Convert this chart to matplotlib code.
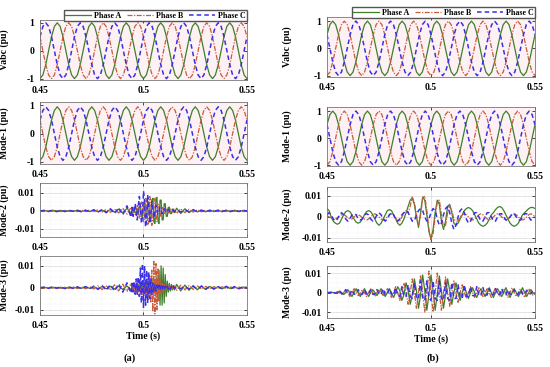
import numpy as np
import matplotlib
matplotlib.use("Agg")
import matplotlib.pyplot as plt
from matplotlib.ticker import MultipleLocator

# ---------------- data ----------------
# Vabc / Mode-1 panels: samples every 1/720 s between 0.45 and 0.55 s
t_sine = np.linspace(0.45, 0.55, 73)

vabc_a_A = [-1, -0.87, -0.5, 0, 0.5, 0.87, 1, 0.87, 0.5, 0, -0.5, -0.87,
            -1, -0.87, -0.5, 0, 0.5, 0.87, 1, 0.87, 0.5, 0, -0.5, -0.87,
            -1, -0.87, -0.5, 0, 0.5, 0.87, 1, 0.87, 0.5, 0, -0.5, -0.87,
            -1, -0.87, -0.5, 0, 0.5, 0.87, 1, 0.87, 0.5, 0, -0.5, -0.87,
            -1, -0.87, -0.5, 0, 0.5, 0.87, 1, 0.87, 0.5, 0, -0.5, -0.87,
            -1, -0.87, -0.5, 0, 0.5, 0.87, 1, 0.87, 0.5, 0, -0.5, -0.87, -1]
vabc_a_B = [0.5, 0, -0.5, -0.87, -1, -0.87, -0.5, 0, 0.5, 0.87, 1, 0.87,
            0.5, 0, -0.5, -0.87, -1, -0.87, -0.5, 0, 0.5, 0.87, 1, 0.87,
            0.5, 0, -0.5, -0.87, -1, -0.87, -0.5, 0, 0.5, 0.87, 1, 0.87,
            0.5, 0, -0.5, -0.87, -1, -0.87, -0.5, 0, 0.5, 0.87, 1, 0.87,
            0.5, 0, -0.5, -0.87, -1, -0.87, -0.5, 0, 0.5, 0.87, 1, 0.87,
            0.5, 0, -0.5, -0.87, -1, -0.87, -0.5, 0, 0.5, 0.87, 1, 0.87, 0.5]
vabc_a_C = [0.5, 0.87, 1, 0.87, 0.5, 0, -0.5, -0.87, -1, -0.87, -0.5, 0,
            0.5, 0.87, 1, 0.87, 0.5, 0, -0.5, -0.87, -1, -0.87, -0.5, 0,
            0.5, 0.87, 1, 0.87, 0.5, 0, -0.5, -0.87, -1, -0.87, -0.5, 0,
            0.5, 0.87, 1, 0.87, 0.5, 0, -0.5, -0.87, -1, -0.87, -0.5, 0,
            0.5, 0.87, 1, 0.87, 0.5, 0, -0.5, -0.87, -1, -0.87, -0.5, 0,
            0.5, 0.87, 1, 0.87, 0.5, 0, -0.5, -0.87, -1, -0.87, -0.5, 0, 0.5]

mode1_a_A = [-0.95, -0.82, -0.48, 0, 0.48, 0.82, 0.95, 0.82, 0.48, 0, -0.48, -0.82,
             -0.95, -0.82, -0.48, 0, 0.48, 0.82, 0.95, 0.82, 0.48, 0, -0.48, -0.82,
             -0.95, -0.82, -0.48, 0, 0.48, 0.82, 0.95, 0.82, 0.48, 0, -0.48, -0.82,
             -0.95, -0.82, -0.48, 0, 0.48, 0.82, 0.95, 0.82, 0.48, 0, -0.48, -0.82,
             -0.95, -0.82, -0.48, 0, 0.48, 0.82, 0.95, 0.82, 0.48, 0, -0.48, -0.82,
             -0.95, -0.82, -0.48, 0, 0.48, 0.82, 0.95, 0.82, 0.48, 0, -0.48, -0.82, -0.95]
mode1_a_B = [0.48, 0, -0.48, -0.82, -0.95, -0.82, -0.48, 0, 0.48, 0.82, 0.95, 0.82,
             0.48, 0, -0.48, -0.82, -0.95, -0.82, -0.48, 0, 0.48, 0.82, 0.95, 0.82,
             0.48, 0, -0.48, -0.82, -0.95, -0.82, -0.48, 0, 0.48, 0.82, 0.95, 0.82,
             0.48, 0, -0.48, -0.82, -0.95, -0.82, -0.48, 0, 0.48, 0.82, 0.95, 0.82,
             0.48, 0, -0.48, -0.82, -0.95, -0.82, -0.48, 0, 0.48, 0.82, 0.95, 0.82,
             0.48, 0, -0.48, -0.82, -0.95, -0.82, -0.48, 0, 0.48, 0.82, 0.95, 0.82, 0.48]
mode1_a_C = [0.48, 0.82, 0.95, 0.82, 0.48, 0, -0.48, -0.82, -0.95, -0.82, -0.48, 0,
             0.48, 0.82, 0.95, 0.82, 0.48, 0, -0.48, -0.82, -0.95, -0.82, -0.48, 0,
             0.48, 0.82, 0.95, 0.82, 0.48, 0, -0.48, -0.82, -0.95, -0.82, -0.48, 0,
             0.48, 0.82, 0.95, 0.82, 0.48, 0, -0.48, -0.82, -0.95, -0.82, -0.48, 0,
             0.48, 0.82, 0.95, 0.82, 0.48, 0, -0.48, -0.82, -0.95, -0.82, -0.48, 0,
             0.48, 0.82, 0.95, 0.82, 0.48, 0, -0.48, -0.82, -0.95, -0.82, -0.48, 0, 0.48]

vabc_b_A = [0.5, 0.87, 1, 0.87, 0.5, 0, -0.5, -0.87, -1, -0.87, -0.5, 0,
            0.5, 0.87, 1, 0.87, 0.5, 0, -0.5, -0.87, -1, -0.87, -0.5, 0,
            0.5, 0.87, 1, 0.87, 0.5, 0, -0.5, -0.87, -1, -0.87, -0.5, 0,
            0.5, 0.87, 1, 0.87, 0.5, 0, -0.5, -0.87, -1, -0.87, -0.5, 0,
            0.5, 0.87, 1, 0.87, 0.5, 0, -0.5, -0.87, -1, -0.87, -0.5, 0,
            0.5, 0.87, 1, 0.87, 0.5, 0, -0.5, -0.87, -1, -0.87, -0.5, 0, 0.5]
vabc_b_B = [-1, -0.87, -0.5, 0, 0.5, 0.87, 1, 0.87, 0.5, 0, -0.5, -0.87,
            -1, -0.87, -0.5, 0, 0.5, 0.87, 1, 0.87, 0.5, 0, -0.5, -0.87,
            -1, -0.87, -0.5, 0, 0.5, 0.87, 1, 0.87, 0.5, 0, -0.5, -0.87,
            -1, -0.87, -0.5, 0, 0.5, 0.87, 1, 0.87, 0.5, 0, -0.5, -0.87,
            -1, -0.87, -0.5, 0, 0.5, 0.87, 1, 0.87, 0.5, 0, -0.5, -0.87,
            -1, -0.87, -0.5, 0, 0.5, 0.87, 1, 0.87, 0.5, 0, -0.5, -0.87, -1]
vabc_b_C = [0.5, 0, -0.5, -0.87, -1, -0.87, -0.5, 0, 0.5, 0.87, 1, 0.87,
            0.5, 0, -0.5, -0.87, -1, -0.87, -0.5, 0, 0.5, 0.87, 1, 0.87,
            0.5, 0, -0.5, -0.87, -1, -0.87, -0.5, 0, 0.5, 0.87, 1, 0.87,
            0.5, 0, -0.5, -0.87, -1, -0.87, -0.5, 0, 0.5, 0.87, 1, 0.87,
            0.5, 0, -0.5, -0.87, -1, -0.87, -0.5, 0, 0.5, 0.87, 1, 0.87,
            0.5, 0, -0.5, -0.87, -1, -0.87, -0.5, 0, 0.5, 0.87, 1, 0.87, 0.5]

mode1_b_A = vabc_b_A
mode1_b_B = vabc_b_B
mode1_b_C = vabc_b_C

# Mode-2 / Mode-3 (a): coarse, dense around the fault, coarse again
t_burst_a = np.concatenate([np.linspace(0.45, 0.494, 23),
                            np.linspace(0.4945, 0.515, 42),
                            np.linspace(0.516, 0.55, 18)])

mode2_a_A = [0, 0.0003, -0.0003, 0.0004, -0.0002, 0.0003, -0.0004, 0.0002, -0.0003, 0.0004,
             -0.0003, 0.0003, -0.0004, 0.0005, -0.0005, 0.0004, -0.0006, 0.0008, -0.0007, 0.001,
             -0.0012, 0.0015, -0.0015,
             0.001, -0.001, -0.001, 0.0015, 0.0015, -0.002, -0.002, 0.002, 0.003, -0.003,
             -0.003, 0.003, 0.004, -0.004, -0.004, 0.005, 0.005, -0.005, -0.006, 0.006,
             0.007, -0.006, -0.007, 0.007, 0.0075, -0.006, -0.007, 0.006, 0.006, -0.005,
             -0.005, 0.004, 0.004, -0.003, -0.003, 0.002, 0.002, -0.0015, -0.0015, 0.001,
             0.001, -0.001,
             0.0015, -0.0015, 0.0012, -0.001, 0.0008, -0.0006, 0.0005, -0.0005, 0.0004, -0.0004,
             0.0003, -0.0004, 0.0004, -0.0003, 0.0004, -0.0004, 0.0003, 0]
mode2_a_B = [0, -0.0003, 0.0004, -0.0002, 0.0003, -0.0004, 0.0003, -0.0003, 0.0002, -0.0004,
             0.0004, -0.0003, 0.0005, -0.0004, 0.0006, -0.0006, 0.0008, -0.0008, 0.001, -0.0012,
             0.0015, -0.0018, 0.002,
             -0.002, 0.001, 0.002, -0.002, -0.002, 0.003, 0.002, -0.004, -0.003, 0.005,
             0.004, -0.006, -0.005, 0.007, 0.006, -0.008, -0.006, 0.008, 0.006, -0.008,
             -0.005, 0.007, 0.004, -0.006, -0.003, 0.004, 0.002, -0.003, -0.001, 0.002,
             0.001, -0.002, -0.001, 0.0015, 0.001, -0.0012, -0.0008, 0.001, 0.0006, -0.0008,
             -0.0005, 0.0005,
             -0.0015, 0.0012, -0.001, 0.0009, -0.0007, 0.0006, -0.0005, 0.0004, -0.0004, 0.0003,
             -0.0004, 0.0003, -0.0003, 0.0004, -0.0003, 0.0003, -0.0004, 0]
mode2_a_C = [0, 0.0002, -0.0003, 0.0003, -0.0004, 0.0002, -0.0003, 0.0004, -0.0002, 0.0003,
             -0.0005, 0.0004, -0.0005, 0.0006, -0.0007, 0.0008, -0.001, 0.0012, -0.0015, 0.0018,
             -0.0022, 0.0028, -0.0035,
             0.002, -0.003, 0.001, 0.004, -0.002, -0.005, 0.003, 0.008, 0.002, -0.007,
             -0.003, 0.011, 0.006, -0.009, -0.004, 0.009, 0.003, -0.007, -0.002, 0.005,
             0.001, -0.004, 0, 0.003, 0, -0.002, 0, 0.002, 0, -0.0015,
             0, 0.0012, 0, -0.001, 0, 0.0008, 0, -0.0006, 0, 0.0005,
             0, -0.0004,
             0.0005, -0.0006, 0.0005, -0.0004, 0.0004, -0.0003, 0.0003, -0.0004, 0.0003, -0.0003,
             0.0004, -0.0003, 0.0003, -0.0004, 0.0003, -0.0003, 0.0003, 0]

mode3_a_A = [0, 0.0002, -0.0002, 0.0003, -0.0003, 0.0002, -0.0003, 0.0003, -0.0002, 0.0003,
             -0.0003, 0.0004, -0.0003, 0.0004, -0.0004, 0.0005, -0.0005, 0.0006, -0.0006, 0.0007,
             -0.0008, 0.0008, -0.001,
             0.001, -0.001, 0.001, -0.001, 0.0015, -0.0015, 0.0015, -0.0015, 0.002, -0.002,
             0.002, -0.002, 0.002, -0.002, 0.0025, -0.0025, 0.0025, -0.0025, 0.003, -0.003,
             0.003, -0.003, 0.004, -0.004, 0.005, -0.006, 0.008, -0.008, 0.010, -0.008,
             0.009, -0.007, 0.006, -0.004, 0.003, -0.002, 0.002, -0.0015, 0.0015, -0.001,
             0.001, -0.001,
             0.0015, -0.0015, 0.0012, -0.0012, 0.001, -0.001, 0.0008, -0.0008, 0.0006, -0.0006,
             0.0005, -0.0005, 0.0005, -0.0004, 0.0004, -0.0004, 0.0003, 0]
mode3_a_B = [0, -0.0003, 0.0003, -0.0002, 0.0003, -0.0003, 0.0002, -0.0003, 0.0004, -0.0004,
             0.0003, -0.0005, 0.0005, -0.0006, 0.0008, -0.0009, 0.001, -0.0012, 0.0013, -0.0015,
             0.0016, -0.0018, 0.002,
             -0.001, 0.001, -0.0015, 0.0015, -0.002, 0.002, -0.002, 0.002, -0.0025, 0.0025,
             -0.003, 0.003, -0.003, 0.0035, -0.004, 0.004, -0.005, 0.006, -0.007, 0.008,
             -0.011, 0.012, -0.012, 0.011, -0.010, 0.009, -0.006, 0.004, -0.003, 0.002,
             -0.002, 0.0015, -0.0015, 0.0012, -0.0012, 0.001, -0.001, 0.001, -0.0008, 0.0008,
             -0.0008, 0.0008,
             -0.0012, 0.0012, -0.001, 0.001, -0.0008, 0.0008, -0.0006, 0.0006, -0.0005, 0.0005,
             -0.0004, 0.0004, -0.0004, 0.0003, -0.0003, 0.0003, -0.0003, 0]
mode3_a_C = [0, 0.0002, -0.0003, 0.0003, -0.0002, 0.0003, -0.0004, 0.0003, -0.0003, 0.0004,
             -0.0004, 0.0005, -0.0006, 0.0007, -0.0008, 0.001, -0.0012, 0.0014, -0.0016, 0.0018,
             -0.002, 0.0022, -0.0025,
             0.002, -0.002, 0.003, -0.003, 0.004, -0.003, 0.005, -0.004, 0.009, -0.007,
             0.011, -0.009, 0.010, -0.008, 0.008, -0.007, 0.007, -0.005, 0.004, -0.003,
             0.002, -0.002, 0.0015, -0.0015, 0.001, -0.001, 0.001, -0.001, 0.0008, -0.0008,
             0.0008, -0.0008, 0.0006, -0.0006, 0.0006, -0.0006, 0.0005, -0.0005, 0.0005, -0.0005,
             0.0004, -0.0004,
             0.0004, -0.0004, 0.0005, -0.0005, 0.0006, -0.0006, 0.0007, -0.0007, 0.0006, -0.0006,
             0.0005, -0.0005, 0.0006, -0.0006, 0.0005, -0.0005, 0.0004, 0]

# Mode-2 / Mode-3 (b): one sample per ms
t_burst_b = np.linspace(0.45, 0.55, 101)

mode2_b_A = [0.004, 0.003, 0.0, -0.002, -0.003, -0.0035, -0.003, -0.001, 0.001, 0.0025,
             0.003, 0.0025, 0.001, -0.001, -0.0025, -0.003, -0.0025, -0.001, 0.001, 0.0025,
             0.003, 0.0025, 0.001, -0.001, -0.003, -0.004, -0.003, -0.001, 0.001, 0.003,
             0.0035, 0.003, 0.001, -0.001, -0.003, -0.004, -0.003, -0.001, 0.002, 0.005,
             0.008, 0.009, 0.006, 0.0, -0.005, 0.002, 0.0095, 0.008, 0.001, -0.007,
             -0.0105, -0.006, 0.002, 0.008, 0.006, -0.002, -0.006, -0.002, 0.005, 0.006,
             0.002, -0.003, -0.004, -0.003, -0.001, 0.001, 0.003, 0.004, 0.0045, 0.004,
             0.003, 0.001, -0.001, -0.003, -0.004, -0.0045, -0.004, -0.003, -0.001, 0.001,
             0.002, 0.0035, 0.0045, 0.005, 0.0045, 0.003, 0.001, -0.001, -0.003, -0.004,
             -0.0045, -0.004, -0.003, -0.001, 0.001, 0.002, 0.003, 0.004, 0.0045, 0.0045,
             0.004]
mode2_b_B = [0.0005, 0.0, -0.0005, -0.001, -0.001, -0.0005, 0.0005, 0.001, 0.001, 0.0005,
             -0.0005, -0.001, -0.001, 0.0, 0.001, 0.001, 0.0005, -0.0005, -0.001, -0.0015,
             -0.001, 0.0, 0.001, 0.0015, 0.001, 0.0, -0.001, -0.0015, -0.001, 0.0,
             0.001, 0.0015, 0.001, -0.0005, -0.002, -0.002, 0.0, 0.002, 0.003, 0.002,
             0.005, 0.0095, 0.007, 0.001, -0.004, 0.001, 0.009, 0.010, 0.003, -0.006,
             -0.011, -0.008, 0.0, 0.007, 0.008, 0.001, -0.005, -0.004, 0.002, 0.005,
             0.003, -0.001, -0.002, -0.002, 0.0, 0.001, 0.0015, 0.001, 0.0, -0.001,
             -0.0015, -0.001, 0.0, 0.001, 0.0015, 0.001, 0.0, -0.001, -0.0015, -0.001,
             0.0, 0.001, 0.0015, 0.001, 0.0, -0.001, -0.0015, -0.001, 0.0, 0.001,
             0.0015, 0.001, 0.0, -0.001, -0.0015, -0.001, 0.0, 0.001, 0.0015, 0.001,
             0.0]
mode2_b_C = [0.001, 0.002, 0.001, -0.001, -0.002, -0.001, 0.001, 0.002, 0.001, -0.001,
             -0.002, -0.001, 0.001, 0.0015, 0.001, -0.001, -0.0015, -0.001, 0.001, 0.0015,
             0.001, -0.001, -0.002, -0.001, 0.001, 0.002, 0.001, -0.001, -0.002, -0.001,
             0.001, 0.002, 0.001, -0.001, -0.002, -0.001, 0.001, 0.002, 0.003, 0.002,
             0.0, -0.002, -0.002, 0.001, 0.003, 0.004, 0.003, 0.0, -0.002, -0.001,
             0.002, 0.004, 0.003, -0.001, -0.004, -0.003, 0.001, 0.004, 0.005, 0.002,
             -0.003, -0.006, -0.004, 0.0, 0.003, 0.004, 0.002, -0.001, -0.003, -0.002,
             0.0, 0.002, 0.002, 0.0, -0.002, -0.002, 0.0, 0.002, 0.002, 0.0,
             -0.002, -0.002, 0.0, 0.0015, 0.0015, 0.0, -0.0015, -0.0015, 0.0, 0.0015,
             0.0015, 0.0, -0.0015, -0.0015, 0.0, 0.0015, 0.0015, 0.0, -0.0015, -0.001,
             0.0]

mode3_b_A = [0, 0, 0.0003, 0, -0.0003, 0, 0.0008, 0, -0.001, 0,
             0.0015, 0, -0.002, 0, 0.002, 0, -0.002, 0, 0.002, 0,
             -0.002, 0, 0.0015, 0, -0.0015, 0, 0.002, 0, -0.002, 0,
             0.002, 0, -0.0025, 0, 0.003, 0.001, -0.004, -0.001, 0.005, 0.001,
             -0.006, -0.001, 0.007, 0.001, -0.008, -0.001, 0.009, 0.001, -0.009, -0.001,
             0.009, 0.001, -0.009, -0.001, 0.0085, 0.001, -0.008, -0.001, 0.007, 0.001,
             -0.006, 0, 0.005, 0, -0.004, 0, 0.003, 0, -0.003, 0,
             0.0025, 0, -0.0025, 0, 0.002, 0, -0.002, 0, 0.0025, 0,
             -0.0025, 0, 0.002, 0, -0.002, 0, 0.0025, 0, -0.0025, 0,
             0.002, 0, -0.002, 0, 0.0025, 0, -0.002, 0, 0.0015, 0,
             -0.001]
mode3_b_B = [0, 0, 0, -0.0003, 0, 0.0005, 0, -0.001, 0, 0.0015,
             0, -0.002, 0, 0.002, 0, -0.0015, 0, 0.0015, 0, -0.002,
             0, 0.002, 0, -0.002, 0, 0.0015, 0, -0.0015, 0, 0.002,
             0, -0.0025, 0, 0.003, 0, -0.004, 0, 0.005, 0, -0.006,
             0, 0.007, 0, -0.008, 0, 0.009, 0, -0.010, 0, 0.011,
             0, -0.010, 0, 0.010, 0, -0.009, 0, 0.008, 0, -0.007,
             0, 0.006, 0, -0.005, 0, 0.004, 0, -0.003, 0, 0.003,
             0, -0.0025, 0, 0.0025, 0, -0.002, 0, 0.002, 0, -0.0025,
             0, 0.0025, 0, -0.002, 0, 0.002, 0, -0.0025, 0, 0.0025,
             0, -0.002, 0, 0.002, 0, -0.0025, 0, 0.002, 0, -0.0015,
             0]
mode3_b_C = [0, 0, 0, 0.0005, -0.0003, -0.0003, 0.001, -0.0005, -0.0005, 0.0015,
             -0.0008, -0.0008, 0.0015, -0.0008, -0.0008, 0.0015, -0.0008, -0.0008, 0.0015, -0.0008,
             -0.0008, 0.0015, -0.0008, -0.0008, 0.0015, -0.0008, -0.0008, 0.002, -0.001, -0.001,
             0.002, -0.001, -0.0015, 0.0025, -0.0015, -0.002, 0.003, -0.002, -0.002, 0.004,
             -0.002, -0.003, 0.005, -0.003, -0.003, 0.006, -0.003, -0.004, 0.006, -0.003,
             -0.004, 0.006, -0.003, -0.004, 0.006, -0.003, -0.004, 0.005, -0.003, -0.004,
             0.005, -0.003, -0.003, 0.004, -0.002, -0.003, 0.004, -0.002, -0.002, 0.003,
             -0.0015, -0.0015, 0.003, -0.0015, -0.0015, 0.0025, -0.0012, -0.0012, 0.002, -0.001,
             -0.001, 0.002, -0.001, -0.001, 0.002, -0.001, -0.001, 0.0015, -0.0008, -0.0008,
             0.0015, -0.0008, -0.0008, 0.0015, -0.0008, -0.0008, 0.0012, -0.0006, -0.0006, 0.001,
             0]

phase_names = ['Phase A', 'Phase B', 'Phase C']
panel_labels = ['Vabc (pu)', 'Mode-1 (pu)', 'Mode-2 (pu)', 'Mode-3 (pu)']
x_ticks = [0.45, 0.5, 0.55]
x_ticklabels = ['0.45', '0.5', '0.55']

# ---------------- styling ----------------
plt.rcParams['font.family'] = ['Liberation Serif', 'DejaVu Serif']
plt.rcParams['font.weight'] = 'bold'
plt.rcParams['axes.labelweight'] = 'bold'
plt.rcParams['font.size'] = 7

col_A, col_B, col_C = '#3f7f2a', '#c95a3a', '#3b2fe6'
styles = [dict(color=col_A, lw=0.9, ls='-'),
          dict(color=col_B, lw=0.9, ls=(0, (4, 1.2, 1, 1.2))),
          dict(color=col_C, lw=1.1, ls=(0, (3, 2)))]

fig = plt.figure(figsize=(5.5, 3.67), dpi=100)

W, H = 550.0, 367.0
def add_ax(x0, x1, y0, y1):
    return fig.add_axes([x0 / W, 1 - y1 / H, (x1 - x0) / W, (y1 - y0) / H])

boxes_a = [(20, 80), (102, 164), (183, 237), (256, 315)]
boxes_b = [(17, 77), (107, 166), (187, 242), (266, 318)]
ylims_a = [(-1.05, 1.1), (-1.08, 1.12), (-0.0145, 0.0155), (-0.0125, 0.0145)]
ylims_b = [(-1.05, 1.15), (-1.03, 1.15), (-0.012, 0.0143), (-0.013, 0.0136)]

data_a = [(t_sine, [vabc_a_A, vabc_a_B, vabc_a_C]),
          (t_sine, [mode1_a_A, mode1_a_B, mode1_a_C]),
          (t_burst_a, [mode2_a_A, mode2_a_B, mode2_a_C]),
          (t_burst_a, [mode3_a_A, mode3_a_B, mode3_a_C])]
data_b = [(t_sine, [vabc_b_A, vabc_b_B, vabc_b_C]),
          (t_sine, [mode1_b_A, mode1_b_B, mode1_b_C]),
          (t_burst_b, [mode2_b_A, mode2_b_B, mode2_b_C]),
          (t_burst_b, [mode3_b_A, mode3_b_B, mode3_b_C])]

def draw_column(x0, x1, boxes, ylims, data, label_x):
    axes = []
    for i, ((y0, y1), yl, (t, series)) in enumerate(zip(boxes, ylims, data)):
        ax = add_ax(x0, x1, y0, y1)
        if i < 2:
            ax.set_facecolor('#fdf1f4')
        for vals, st, name in zip(series, styles, phase_names):
            ax.plot(t, vals, label=name, **st)
        ax.set_xlim(0.45, 0.55)
        ax.set_ylim(*yl)
        ax.set_xticks(x_ticks)
        ax.set_xticklabels(x_ticklabels)
        if i < 2:
            ax.set_yticks([-1, 0, 1])
            ax.set_yticklabels(['-1', '0', '1'])
        else:
            ax.set_yticks([-0.01, 0, 0.01])
            ax.set_yticklabels(['-0.01', '0', '0.01'])
            ax.xaxis.set_minor_locator(MultipleLocator(0.005))
            ax.yaxis.set_minor_locator(MultipleLocator(0.0025))
            ax.grid(which='major', color='#d0d0d0', lw=0.4)
            ax.grid(which='minor', color='#e4e4e4', lw=0.3, ls=':')
        ax.tick_params(which='major', direction='in', length=2, width=0.5,
                       top=True, right=True, labelsize=7, pad=4)
        ax.tick_params(which='minor', length=0)
        for sp in ax.spines.values():
            sp.set_color('#777777')
            sp.set_linewidth(0.6)
        ax.set_ylabel(panel_labels[i], fontsize=7)
        ax.yaxis.set_label_coords(label_x, 0.5)
        axes.append(ax)
    axes[-1].set_xlabel('Time (s)', fontsize=7, labelpad=1)
    return axes

axes_a = draw_column(40, 247, boxes_a, ylims_a, data_a, -0.15)
axes_b = draw_column(327, 535, boxes_b, ylims_b, data_b, -0.17)

for ax in (axes_a[0], axes_b[0]):
    ax.legend(loc='lower right', bbox_to_anchor=(1.0, 0.985), ncol=3,
              fontsize=5.8, frameon=True, fancybox=False, edgecolor='#555555',
              framealpha=1, handlelength=3.2, handletextpad=0.4, columnspacing=0.7,
              borderpad=0.15, borderaxespad=0.0)

fig.text(130 / W, 1 - 358 / H, '(a)', ha='center', va='center', fontsize=7.5)
fig.text(433 / W, 1 - 358 / H, '(b)', ha='center', va='center', fontsize=7.5)

fig.savefig('out.png', dpi=100)
